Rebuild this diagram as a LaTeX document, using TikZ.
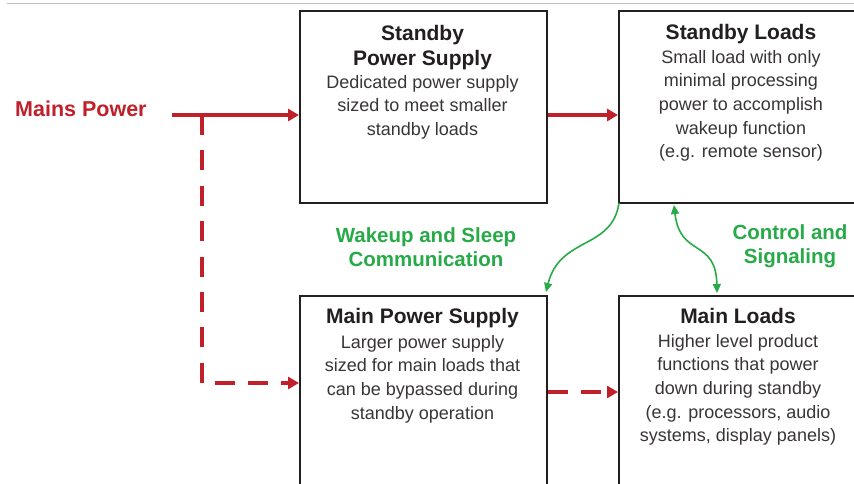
\documentclass[tikz,border=0pt]{standalone}
\usepackage{fontspec}
\setmainfont{Liberation Sans}
\usetikzlibrary{arrows.meta}
\definecolor{pred}{RGB}{192,32,42}
\definecolor{pgreen}{RGB}{40,170,72}
\definecolor{pbox}{RGB}{35,31,32}
\begin{document}
\begin{tikzpicture}[x=1pt,y=-1pt,
  boxframe/.style={draw=pbox,line width=2pt,inner sep=0pt,anchor=north west},
  ttl/.style={font=\fontsize{21}{25}\selectfont\bfseries,color=pbox,align=center,anchor=north,inner sep=0pt},
  body/.style={font=\fontsize{18}{23.6}\selectfont,color=pbox!90,align=center,anchor=north,inner sep=0pt},
  redarrow/.style={draw=pred,line width=3.5pt,-{Triangle[length=11pt,width=12pt]}},
  redline/.style={draw=pred,line width=3.5pt},
  reddash/.style={dash pattern=on 20pt off 15.4pt},
  greenarrow/.style={draw=pgreen,line width=1.6pt},
  gtip/.tip={Triangle[length=9pt,width=8pt]},
  glabel/.style={font=\fontsize{20.5}{24.5}\selectfont\bfseries,color=pgreen,align=center,anchor=north,inner sep=0pt}]
\useasboundingbox (0,0) rectangle (854,483);
\clip (0,0) rectangle (854,483);
\fill[white] (0,0) rectangle (854,483);
\draw[black!25,line width=1pt] (7,3) -- (854,3);
% boxes
\node[boxframe,minimum width=247pt,minimum height=192pt] (sps) at (299,10) {};
\node[boxframe,minimum width=245pt,minimum height=192pt] (sl) at (618,10) {};
\node[boxframe,minimum width=247pt,minimum height=220pt] (mps) at (299,295) {};
\node[boxframe,minimum width=245pt,minimum height=220pt] (ml) at (618,295) {};
% texts
\node[ttl] (spst) at (422.5,24.7) {Standby\\Power Supply};
\node[body] (spsb) at (422.5,75) {Dedicated power supply\\sized to meet smaller\\standby loads};
\node[ttl] (slt) at (741,23.7) {Standby Loads};
\node[body] (slb) at (741,50) {Small load with only\\minimal processing\\power to accomplish\\wakeup function\\(e.g. remote sensor)};
\node[ttl] (mpst) at (422.5,307.7) {Main Power Supply};
\node[body] (mpsb) at (422.5,335) {Larger power supply\\sized for main loads that\\can be bypassed during\\standby operation};
\node[ttl] (mlt) at (738,307.7) {Main Loads};
\node[body] (mlb) at (738,334) {Higher level product\\functions that power\\down during standby\\(e.g. processors, audio\\systems, display panels)};
% mains
\node[font=\fontsize{21.5}{25}\selectfont\bfseries,color=pred,anchor=base west,inner sep=0pt] (mains) at (15,116) {Mains Power};
\coordinate (m0) at (172,115);
\coordinate (jt) at (202,115);
\coordinate (jb) at (202,383);
\draw[redarrow] (m0) -- (sps.west |- m0);
\draw[redline,reddash] (jt) -- (jb);
\draw[redarrow,dash pattern=on 20pt off 13pt,dash phase=20pt] (jb) -- (mps.west |- jb);
\draw[redarrow] (sps.east |- m0) -- (sl.west |- m0);
\draw[redarrow,dash pattern=on 20pt off 13pt] (mps.east |- 0,392) -- (ml.west |- 0,392);
% green
\coordinate (g1s) at (619,203);
\coordinate (g1e) at (546,292);
\draw[greenarrow,-gtip] (g1s) .. controls (612,250) and (560,236) .. (g1e);
\coordinate (g2s) at (674,205);
\coordinate (g2e) at (717,293);
\draw[greenarrow,gtip-gtip] (g2s) .. controls (680,258) and (716,238) .. (g2e);
\node[glabel] (wk) at (426,227) {Wakeup and Sleep\\Communication};
\node[glabel] (cs) at (790,224) {Control and\\Signaling};
\end{tikzpicture}
\end{document}
